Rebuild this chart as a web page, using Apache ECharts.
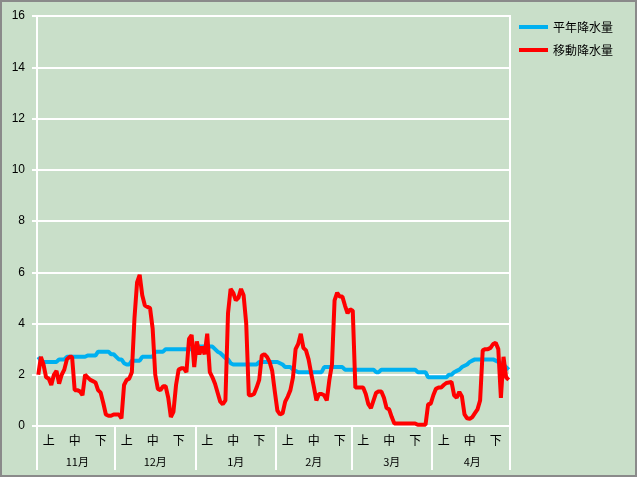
<!DOCTYPE html>
<html><head><meta charset="utf-8">
<script src="https://cdn.jsdelivr.net/npm/echarts@6/dist/echarts.min.js"></script>
<style>
html,body{margin:0;padding:0;background:#fff;}
#frame{position:absolute;left:0;top:0;width:637px;height:477px;box-sizing:border-box;border:2px solid #8a8a8a;background:#C9DFC9;}
#chart{position:absolute;left:0;top:0;width:640px;height:480px;}
</style></head><body>
<div id="frame"></div><div id="chart"></div>
<script>
const monthNums = [11, 12, 1, 2, 3, 4];
const monthNames = ['11月', '12月', '1月', '2月', '3月', '4月'];
const monthDays = [30, 31, 31, 29, 31, 30];
const decadeLabels = ['上', '中', '下'];
const seriesNames = ['平年降水量', '移動降水量'];
const yTicks = [0, 2, 4, 6, 8, 10, 12, 14, 16];

const normalRain = [
  2.7, 2.55, 2.5, 2.5, 2.5, 2.5, 2.5, 2.5, 2.6, 2.6,
  2.6, 2.7, 2.7, 2.7, 2.7, 2.7, 2.7, 2.7, 2.7, 2.75,
  2.75, 2.75, 2.75, 2.9, 2.9, 2.9, 2.9, 2.9, 2.8, 2.8,
  2.7, 2.6, 2.6, 2.45, 2.4, 2.4, 2.55, 2.55, 2.55, 2.55,
  2.7, 2.7, 2.7, 2.7, 2.7, 2.9, 2.9, 2.9, 2.9, 3.0,
  3.0, 3.0, 3.0, 3.0, 3.0, 3.0, 3.0, 3.0, 3.0, 3.0,
  3.0, 3.1, 3.1, 3.1, 3.1, 3.1, 3.1, 3.1, 3.0, 2.9,
  2.85, 2.75, 2.65, 2.6, 2.45, 2.4, 2.4, 2.4, 2.4, 2.4,
  2.4, 2.4, 2.4, 2.4, 2.4, 2.5, 2.5, 2.5, 2.5, 2.5,
  2.5, 2.5, 2.5, 2.45, 2.4, 2.3, 2.3, 2.3, 2.2, 2.15,
  2.1, 2.1, 2.1, 2.1, 2.1, 2.1, 2.1, 2.1, 2.1, 2.1,
  2.3, 2.3, 2.3, 2.3, 2.3, 2.3, 2.3, 2.3, 2.2, 2.2,
  2.2, 2.2, 2.2, 2.2, 2.2, 2.2, 2.2, 2.2, 2.2, 2.2,
  2.1, 2.1, 2.2, 2.2, 2.2, 2.2, 2.2, 2.2, 2.2, 2.2,
  2.2, 2.2, 2.2, 2.2, 2.2, 2.2, 2.1, 2.1, 2.1, 2.1,
  1.9, 1.9, 1.9, 1.9, 1.9, 1.9, 1.9, 1.9, 2.0, 2.0,
  2.1, 2.15, 2.2, 2.3, 2.35, 2.4, 2.5, 2.55, 2.6, 2.6,
  2.6, 2.6, 2.6, 2.6, 2.6, 2.6, 2.55, 2.5, 2.45, 2.4,
  2.3, 2.2
];

const movingRain = [
  2.0, 2.7, 2.4, 1.9, 1.85, 1.6, 2.0, 2.15, 1.65, 2.0,
  2.2, 2.6, 2.7, 2.7, 1.4, 1.4, 1.35, 1.2, 2.0, 1.9,
  1.8, 1.75, 1.7, 1.4, 1.3, 0.9, 0.45, 0.4, 0.4, 0.45,
  0.45, 0.45, 0.3, 1.6, 1.8, 1.85, 2.1, 4.2, 5.6, 5.9,
  5.1, 4.7, 4.65, 4.6, 3.8, 2.0, 1.45, 1.4, 1.55, 1.55,
  1.1, 0.35, 0.55, 1.6, 2.2, 2.25, 2.25, 2.1, 3.4, 3.55,
  2.3, 3.3, 2.8, 3.1, 2.8, 3.6, 2.1, 1.9, 1.65, 1.3,
  0.95, 0.85, 1.0, 4.4, 5.35, 5.2, 4.9, 5.0, 5.35, 5.1,
  4.0, 1.2, 1.2, 1.25, 1.5, 1.8, 2.75, 2.8, 2.7, 2.5,
  2.15, 1.35, 0.6, 0.45, 0.5, 0.95, 1.15, 1.4, 1.9, 3.0,
  3.2, 3.6, 3.05, 2.95, 2.6, 2.05, 1.55, 1.0, 1.25, 1.25,
  1.2, 1.0, 1.8, 2.4, 4.9, 5.2, 5.05, 5.05, 4.7, 4.4,
  4.55, 4.5, 1.5, 1.5, 1.5, 1.5, 1.25, 0.85, 0.7, 1.0,
  1.3, 1.35, 1.35, 1.1, 0.7, 0.65, 0.35, 0.1, 0.1, 0.1,
  0.1, 0.1, 0.1, 0.1, 0.1, 0.1, 0.05, 0.05, 0.05, 0.05,
  0.85, 0.87, 1.2, 1.45, 1.5, 1.5, 1.6, 1.68, 1.7, 1.72,
  1.2, 1.1, 1.33, 1.15, 0.45, 0.3, 0.28, 0.35, 0.5, 0.65,
  1.0, 2.95, 3.0, 3.0, 3.05, 3.2, 3.25, 3.0, 1.1, 2.7,
  1.9, 1.8
];

// category list (one per day) built from the month table
const days = [];
const monthStart = [];
monthDays.forEach((n, m) => {
  monthStart.push(days.length);
  for (let d = 1; d <= n; d++) days.push(monthNums[m] + '/' + d);
});
const decadeAt = {};
const monthAt = {};
monthStart.forEach((s, m) => {
  decadeAt[s + 4] = decadeLabels[0];
  decadeAt[s + 14] = decadeLabels[1];
  decadeAt[s + 24] = decadeLabels[2];
  monthAt[s + Math.floor(monthDays[m] / 2)] = monthNames[m];
});

const cjk = '"Noto Sans CJK JP", sans-serif';
const chart = echarts.init(document.getElementById('chart'), null, {renderer: 'canvas'});
chart.setOption({
  animation: false,
  backgroundColor: 'transparent',
  grid: {left: 37, top: 16, width: 473, height: 410, show: true, borderColor: '#ffffff', borderWidth: 2, backgroundColor: 'transparent', containLabel: false},
  legend: {
    orient: 'vertical', left: 514, top: 15, itemWidth: 29, itemHeight: 4, itemGap: 9, icon: 'rect',
    textStyle: {fontSize: 12, color: '#000', fontFamily: cjk, lineHeight: 14},
    data: seriesNames
  },
  xAxis: [
    {
      type: 'category', data: days, boundaryGap: true, position: 'bottom',
      axisLine: {show: true, lineStyle: {color: '#ffffff', width: 2}},
      axisTick: {show: true, interval: (i) => monthStart.indexOf(i) >= 0, length: 44, lineStyle: {color: '#ffffff', width: 2}},
      axisLabel: {interval: (i) => decadeAt[i] !== undefined, formatter: (v, i) => decadeAt[i] || '', margin: 8, fontSize: 12, color: '#000', fontFamily: cjk},
      splitLine: {show: false}
    },
    {
      type: 'category', data: days, boundaryGap: true, position: 'bottom',
      axisLine: {show: false}, axisTick: {show: false}, splitLine: {show: false},
      axisLabel: {interval: (i) => monthAt[i] !== undefined, formatter: (v, i) => monthAt[i] || '', margin: 30, fontSize: 11, color: '#000', fontFamily: cjk}
    }
  ],
  yAxis: {
    type: 'value', min: yTicks[0], max: yTicks[yTicks.length - 1], interval: 2,
    axisLine: {show: true, lineStyle: {color: '#ffffff', width: 2}},
    axisTick: {show: true, length: 5, lineStyle: {color: '#ffffff', width: 2}},
    axisLabel: {margin: 12, fontSize: 12, color: '#000', fontFamily: '"Liberation Sans", sans-serif'},
    splitLine: {show: true, lineStyle: {color: '#ffffff', width: 2}}
  },
  series: [
    {name: seriesNames[0], type: 'line', data: normalRain, xAxisIndex: 0, symbol: 'none', color: '#00B0F0', lineStyle: {width: 4, color: '#00B0F0'}, z: 2},
    {name: seriesNames[1], type: 'line', data: movingRain, xAxisIndex: 0, symbol: 'none', color: '#FF0000', lineStyle: {width: 4, color: '#FF0000'}, z: 3}
  ]
});
</script>
</body></html>
